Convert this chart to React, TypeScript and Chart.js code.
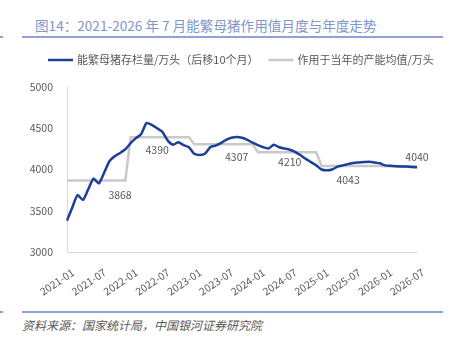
import React, { useEffect, useRef } from "react";
import { Chart, registerables } from "chart.js";

Chart.register(...registerables);

// ---- data ----
const years = ["2021", "2022", "2023", "2024", "2025", "2026"];
const monthsInYear = [12, 12, 12, 12, 12, 7];

// 能繁母猪存栏量/万头（后移10个月）, monthly 2021-01 .. 2026-07
const sowStock = [
  3380, 3540, 3690, 3630, 3760, 3890, 3830, 3960, 4100, 4160, 4200, 4245,
  4320, 4380, 4430, 4565, 4540, 4500, 4455, 4350, 4300, 4330, 4295, 4270,
  4190, 4175, 4190, 4270, 4290, 4320, 4360, 4385, 4395, 4385, 4360, 4325,
  4295, 4270, 4255, 4300, 4270, 4255, 4240, 4215, 4175, 4130, 4090, 4050,
  4000, 3990, 4000, 4035, 4050, 4065, 4080, 4085, 4090, 4095, 4085, 4075,
  4050, 4045, 4040, 4035, 4035, 4030, 4028,
];

// 作用于当年的产能均值/万头, one value per year
const yearAvg = [3868, 4390, 4307, 4210, 4043, 4040];

// months at which each year's value is annotated
const annotMonthIndex = [10, 17, 32, 42, 53, 66];

const tickLabels = [
  "2021-01", "2021-07", "2022-01", "2022-07", "2023-01", "2023-07",
  "2024-01", "2024-07", "2025-01", "2025-07", "2026-01", "2026-07",
];

const seriesNames = ["能繁母猪存栏量/万头（后移10个月）", "作用于当年的产能均值/万头"];

// ---- derived tables ----
const monthLabels: string[] = [];
const avgSeries: number[] = [];
years.forEach((y, yi) => {
  for (let m = 1; m <= monthsInYear[yi]; m++) {
    monthLabels.push(`${y}-${String(m).padStart(2, "0")}`);
    avgSeries.push(yearAvg[yi]);
  }
});

const FONT = '"Noto Sans CJK SC", "Noto Sans", sans-serif';
const TEXT = "#595959";
const BLUE = "#1c3f9a";
const GREY = "#c9c9c9";

const labelOffsets = [14.5, 12.5, 12.7, 9.5, 14.5, -9.5];

const annotPlugin = {
  id: "annot",
  afterDatasetsDraw(chart: any) {
    const { ctx, scales } = chart;
    ctx.save();
    ctx.font = `10.5px ${FONT}`;
    ctx.fillStyle = TEXT;
    ctx.textAlign = "center";
    ctx.textBaseline = "middle";
    yearAvg.forEach((v, i) => {
      const x = scales.x.getPixelForValue(annotMonthIndex[i]);
      const y = scales.y.getPixelForValue(v) + labelOffsets[i];
      ctx.fillText(String(v), Math.min(x, chart.width - 20), y);
    });
    ctx.restore();
  },
};

const legendPlugin = {
  id: "manualLegend",
  afterDraw(chart: any) {
    const ctx = chart.ctx;
    const y = 20;
    let x = 48;
    ctx.save();
    ctx.font = `11px ${FONT}`;
    ctx.textBaseline = "middle";
    ctx.textAlign = "left";
    chart.data.datasets.forEach((ds: any) => {
      ctx.strokeStyle = ds.borderColor;
      ctx.lineWidth = 2.5;
      ctx.beginPath();
      ctx.moveTo(x, y);
      ctx.lineTo(x + 25, y);
      ctx.stroke();
      ctx.fillStyle = TEXT;
      ctx.fillText(ds.label, x + 29, y);
      x += 29 + ctx.measureText(ds.label).width + 10;
    });
    ctx.restore();
  },
};

export default function App() {
  const ref = useRef<HTMLCanvasElement | null>(null);

  useEffect(() => {
    if (!ref.current) return;
    const chart = new Chart(ref.current, {
      type: "line",
      data: {
        labels: monthLabels,
        datasets: [
          {
            label: seriesNames[0],
            data: sowStock,
            borderColor: BLUE,
            backgroundColor: BLUE,
            borderWidth: 2.5,
            pointRadius: 0,
            tension: 0.2,
            order: 0,
          },
          {
            label: seriesNames[1],
            data: avgSeries,
            borderColor: GREY,
            backgroundColor: GREY,
            borderWidth: 2.5,
            pointRadius: 0,
            tension: 0,
            order: 1,
          },
        ],
      },
      options: {
        animation: false,
        responsive: false,
        maintainAspectRatio: false,
        layout: { padding: { top: 47, right: 35, bottom: 0, left: 0 } },
        plugins: {
          legend: { display: false },
          tooltip: { enabled: false },
          title: { display: false },
        },
        scales: {
          x: {
            type: "category",
            offset: false,
            grid: { display: false, drawTicks: false },
            border: { display: true, color: "#d9d9d9", width: 1 },
            ticks: {
              autoSkip: false,
              minRotation: 34,
              maxRotation: 34,
              padding: 14,
              labelOffset: 6,
              color: TEXT,
              font: { size: 10.5, family: FONT },
              callback: (_v: any, i: number) =>
                tickLabels.includes(monthLabels[i]) ? monthLabels[i] : "",
            },
            afterFit: (s: any) => {
              s.height = 53;
            },
          },
          y: {
            min: 3000,
            max: 5000,
            grid: { display: false, drawTicks: false },
            border: { display: true, color: "#d9d9d9", width: 1 },
            ticks: {
              stepSize: 500,
              padding: 14,
              color: TEXT,
              font: { size: 10.5, family: FONT },
              callback: (v: any) => String(v),
            },
            afterFit: (s: any) => {
              s.width = 67;
            },
          },
        },
      },
      plugins: [annotPlugin, legendPlugin],
    });
    return () => chart.destroy();
  }, []);

  const lineColor = "#8fa2d2";
  return (
    <div
      style={{
        position: "fixed",
        left: 0,
        top: 0,
        width: 452,
        height: 345,
        background: "#fff",
        overflow: "hidden",
        fontFamily: FONT,
      }}
    >
      <div
        style={{
          position: "absolute",
          left: 35,
          top: 16,
          height: 18,
          lineHeight: "18px",
          fontSize: 13.6,
          color: "#8196cb",
          whiteSpace: "nowrap",
        }}
      >
        图14：2021-2026 年 7 月能繁母猪作用值月度与年度走势
      </div>
      <div style={{ position: "absolute", left: 0, top: 36, width: 3, height: 2, background: lineColor }} />
      <div style={{ position: "absolute", left: 22, top: 36, width: 421, height: 2, background: lineColor }} />
      <canvas
        ref={ref}
        width={452}
        height={265}
        style={{ position: "absolute", left: 0, top: 40, width: 452, height: 265 }}
      />
      <div style={{ position: "absolute", left: 0, top: 311, width: 3, height: 2, background: lineColor }} />
      <div style={{ position: "absolute", left: 22, top: 311, width: 421, height: 2, background: lineColor }} />
      <div
        style={{
          position: "absolute",
          left: 22,
          top: 317,
          height: 16,
          lineHeight: "16px",
          fontSize: 12,
          fontStyle: "italic",
          color: TEXT,
          whiteSpace: "nowrap",
        }}
      >
        资料来源：国家统计局，中国银河证券研究院
      </div>
    </div>
  );
}
